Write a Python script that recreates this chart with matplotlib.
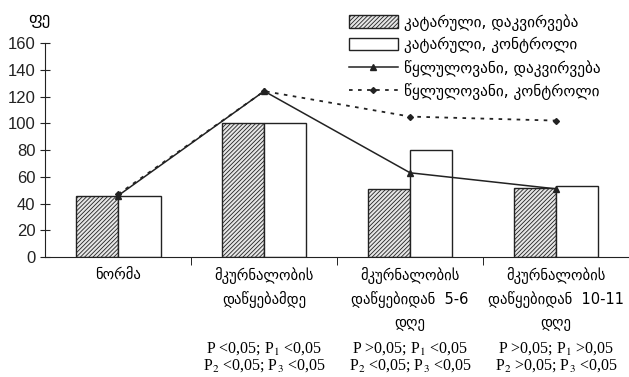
import matplotlib.pyplot as plt
import numpy as np

plt.rcParams['font.family'] = ['DejaVu Sans']
plt.rcParams['mathtext.fontset'] = 'stix'
plt.rcParams['hatch.linewidth'] = 0.6

# ======================================
categories = ['ნორმა',
              'მკურნალობის\nდაწყებამდე',
              'მკურნალობის\nდაწყებიდან  5-6\nდღე',
              'მკურნალობის\nდაწყებიდან  10-11\nდღე']
cat_obs = [46, 100, 51, 52]      # კატარული, დაკვირვება
cat_ctrl = [46, 100, 80, 53]     # კატარული, კონტროლი
ulc_obs = [46, 124, 63, 51]      # წყლულოვანი, დაკვირვება
ulc_ctrl = [47, 124, 105, 102]   # წყლულოვანი, კონტროლი
p_texts = ['',
           'P <0,05; P$_1$ <0,05\nP$_2$ <0,05; P$_3$ <0,05',
           'P >0,05; P$_1$ <0,05\nP$_2$ <0,05; P$_3$ <0,05',
           'P >0,05; P$_1$ >0,05\nP$_2$ >0,05; P$_3$ <0,05']
# ======================================

x = np.arange(len(categories))
w = 0.29

fig = plt.figure(figsize=(6.29, 3.77), dpi=100)
ax = fig.add_axes([0.072, 0.318, 0.928, 0.568])

b1 = ax.bar(x - w / 2, cat_obs, w, facecolor='#e6e6e6', edgecolor='#222222',
            hatch='////////', linewidth=1.0, label='კატარული, დაკვირვება')
b2 = ax.bar(x + w / 2, cat_ctrl, w, facecolor='white', edgecolor='#222222',
            linewidth=1.0, label='კატარული, კონტროლი')
l1, = ax.plot(x, ulc_obs, '-', color='#222222', marker='^', markersize=4,
              linewidth=1.1, label='წყლულოვანი, დაკვირვება')
l2, = ax.plot(x, ulc_ctrl, linestyle=(0, (2, 3)), color='#222222', marker='D',
              markersize=3, linewidth=1.3, label='წყლულოვანი, კონტროლი')

ax.set_xlim(-0.5, 3.5)
ax.set_ylim(0, 160)
ax.set_yticks(range(0, 161, 20))
ax.tick_params(axis='y', direction='inout', length=7, labelsize=12,
               colors='#222222')
for lab in ax.get_yticklabels():
    lab.set_family('Liberation Sans')

ax.set_xticks(x)
ax.set_xticklabels(categories, fontsize=10.5, linespacing=1.55,
                   va='top')
ax.tick_params(axis='x', length=0, pad=7)
ax.set_xticks(x[:-1] + 0.5, minor=True)
ax.tick_params(axis='x', which='minor', direction='out', length=6)

for s in ['top', 'right']:
    ax.spines[s].set_visible(False)
for s in ['left', 'bottom']:
    ax.spines[s].set_color('#222222')

ax.text(-0.01, 1.07, 'ფე', transform=ax.transAxes, fontsize=12,
        ha='center', va='bottom')

for i, t in enumerate(p_texts):
    if t:
        ax.text(x[i], -62, t, ha='center', va='top', fontsize=11.5,
                family='Liberation Serif', linespacing=1.0)

ax.legend([b1, b2, l1, l2], [h.get_label() for h in [b1, b2, l1, l2]],
          loc='upper right', bbox_to_anchor=(0.975, 1.2),
          frameon=False, fontsize=11, handlelength=3.2,
          handleheight=0.9, handletextpad=0.4, labelspacing=0.42)

plt.savefig('out.png', dpi=100)
